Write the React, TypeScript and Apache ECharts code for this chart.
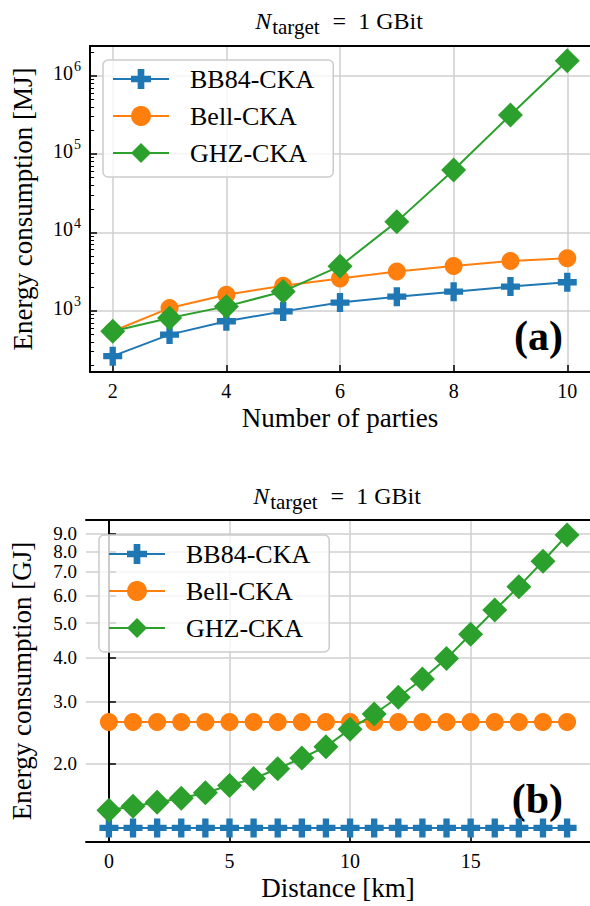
import React, { useEffect, useRef } from "react";
import * as echarts from "echarts";

// ---------- data ----------
const parties = [2, 3, 4, 5, 6, 7, 8, 9, 10];
const bb84Parties = [263, 495, 733, 980, 1270, 1510, 1750, 2030, 2305];
const bellParties = [546, 1080, 1600, 2080, 2570, 3170, 3720, 4310, 4670];
const ghzParties = [546, 807, 1135, 1760, 3700, 13700, 62500, 315000, 1550000];

const distances = [0, 1, 2, 3, 4, 5, 6, 7, 8, 9, 10, 11, 12, 13, 14, 15, 16, 17, 18, 19];
const bb84Distance = [1.31, 1.31, 1.31, 1.31, 1.31, 1.31, 1.31, 1.31, 1.31, 1.31, 1.31, 1.31, 1.31, 1.31, 1.31, 1.31, 1.31, 1.31, 1.31, 1.31];
const bellDistance = [2.62, 2.62, 2.62, 2.62, 2.62, 2.62, 2.62, 2.62, 2.62, 2.62, 2.62, 2.62, 2.62, 2.62, 2.62, 2.62, 2.62, 2.62, 2.62, 2.62];
const ghzDistance = [1.47, 1.51, 1.55, 1.59, 1.65, 1.73, 1.81, 1.93, 2.07, 2.23, 2.5, 2.76, 3.08, 3.47, 3.97, 4.65, 5.45, 6.35, 7.5, 8.9];

const partiesTicks = [2, 4, 6, 8, 10];
const distanceTicks = [0, 5, 10, 15];
const energyMajorTicksMJ = [1000, 10000, 100000, 1000000];
const energyMinorTicksMJ = [
  200, 300, 400, 500, 600, 700, 800, 900,
  2000, 3000, 4000, 5000, 6000, 7000, 8000, 9000,
  20000, 30000, 40000, 50000, 60000, 70000, 80000, 90000,
  200000, 300000, 400000, 500000, 600000, 700000, 800000, 900000,
  2000000,
];
// labels split over two axes so ECharts does not drop crowded neighbours
const energyTicksGJ = [2, 3, 4, 5, 6, 7, 8, 9];
const energyLabelsGJ_A = [2, 3, 4, 5, 6, 7, 9];
const energyLabelsGJ_B = [8];

const seriesNames = ["BB84-CKA", "Bell-CKA", "GHZ-CKA"];
const colors = ["#1f77b4", "#ff7f0e", "#2ca02c"];

// ---------- styling ----------
const FONT = "Liberation Serif";
const PLUS = "path://M-1,-3L1,-3L1,-1L3,-1L3,1L1,1L1,3L-1,3L-1,1L-3,1L-3,-1L-1,-1Z";
const symbols = [PLUS, "circle", "diamond"];
const symbolSizes = [19, 18, 25];
const GRID_COLOR = "#cfcfcf";

const titleRich = {
  i: { fontFamily: FONT, fontStyle: "italic", fontSize: 24, verticalAlign: "top", color: "#000" },
  s: { fontFamily: FONT, fontSize: 21, verticalAlign: "top", padding: [7, 13, 0, 1], color: "#000" },
  e: { fontFamily: FONT, fontSize: 24, verticalAlign: "top", padding: [0, 12, 0, 0], color: "#000" },
  n: { fontFamily: FONT, fontSize: 24, verticalAlign: "top", color: "#000" },
};
const TITLE_TEXT = "{i|N}{s|target}{e|=}{n|1 GBit}";

const nameRich = { a: { fontFamily: FONT, fontSize: 27, color: "#000" } };

function makeSeries(idx: number, xs: number[], ys: number[], axisIdx: number, yAxisIdx: number) {
  return {
    type: "line",
    name: seriesNames[idx],
    xAxisIndex: axisIdx,
    yAxisIndex: yAxisIdx,
    data: xs.map((x, i) => [x, ys[i]]),
    symbol: symbols[idx],
    symbolSize: symbolSizes[idx],
    showAllSymbol: true,
    color: colors[idx],
    lineStyle: { width: 2, color: colors[idx] },
    itemStyle: { color: colors[idx] },
    emphasis: { disabled: true },
    silent: true,
    z: 3 + idx,
  };
}

function mainY(gridIndex: number, min: number, max: number, tickVals: number[], labelVals: number[], fmt: (v: number) => string, name: string, nameGap: number, labelSize: number, rich?: any) {
  return {
    type: "log",
    gridIndex,
    position: "left",
    min,
    max,
    logBase: 10,
    name: "{a|" + name + "}",
    nameLocation: "middle",
    nameGap,
    nameTextStyle: { fontFamily: FONT, fontSize: 27, color: "#000", rich: nameRich },
    axisLine: { show: true, lineStyle: { color: "#000", width: 2 } },
    axisTick: { show: true, inside: true, length: 7, customValues: tickVals, lineStyle: { color: "#000", width: 1.5 } },
    axisLabel: {
      show: true,
      customValues: labelVals,
      margin: 9,
      fontFamily: FONT,
      fontSize: labelSize,
      lineHeight: 14,
      color: "#000",
      formatter: fmt,
      rich,
      hideOverlap: false,
    },
    splitLine: { show: true, lineStyle: { color: GRID_COLOR, width: 1.5 } },
    minorTick: { show: false },
  };
}

export default function App() {
  const ref = useRef<HTMLDivElement>(null);
  useEffect(() => {
    if (!ref.current) return;
    const chart = echarts.init(ref.current, undefined, { renderer: "svg" });

    const xAxisBase = (gridIndex: number, min: number, max: number, ticks: number[], name: string) => ({
      type: "value",
      gridIndex,
      position: "bottom",
      min,
      max,
      name: "{a|" + name + "}",
      nameLocation: "middle",
      nameGap: 32,
      nameTextStyle: { fontFamily: FONT, fontSize: 27, color: "#000", rich: nameRich },
      axisLine: { show: true, onZero: false, lineStyle: { color: "#000", width: 2 } },
      axisTick: { show: true, inside: true, length: 7, customValues: ticks, lineStyle: { color: "#000", width: 1.5 } },
      axisLabel: { show: true, customValues: ticks, margin: 9, fontFamily: FONT, fontSize: 20, color: "#000", hideOverlap: false },
      splitLine: { show: true, lineStyle: { color: GRID_COLOR, width: 1.5 } },
    });
    const xTop = (gridIndex: number, min: number, max: number) => ({
      type: "value",
      gridIndex,
      position: "top",
      min,
      max,
      axisLine: { show: true, onZero: false, lineStyle: { color: "#000", width: 2 } },
      axisTick: { show: false },
      axisLabel: { show: false },
      splitLine: { show: false },
    });

    const legendBase = {
      orient: "vertical",
      itemWidth: 56,
      itemHeight: 25,
      itemGap: 11,
      padding: [6, 19, 11, 9],
      backgroundColor: "rgba(255,255,255,0.8)",
      borderColor: "#cccccc",
      borderWidth: 1.5,
      borderRadius: 5,
      selectedMode: false,
      data: seriesNames,
      textStyle: { fontFamily: FONT, fontSize: 26, color: "#000", padding: [0, 0, 0, 16] },
    };

    const supRich = {
      b: { fontFamily: FONT, fontSize: 20, color: "#000", verticalAlign: "bottom" },
      s: { fontFamily: FONT, fontSize: 14, color: "#000", verticalAlign: "bottom", padding: [0, 0, 9, 1] },
    };

    chart.setOption({
      animation: false,
      backgroundColor: "#fff",
      textStyle: { fontFamily: FONT },
      grid: [
        { left: 90, top: 46, right: 0, height: 326, containLabel: false },
        { left: 86, top: 520, right: 0, height: 322, containLabel: false },
      ],
      xAxis: [
        xAxisBase(0, 1.6, 10.4, partiesTicks, "Number of parties"),
        xTop(0, 1.6, 10.4),
        xAxisBase(1, -0.95, 19.95, distanceTicks, "Distance [km]"),
        xTop(1, -0.95, 19.95),
      ],
      yAxis: [
        mainY(0, 165, 2390000, energyMajorTicksMJ, energyMajorTicksMJ,
          (v: number) => "{b|10}{s|" + Math.round(Math.log10(v)) + "}",
          "Energy consumption [MJ]", 54, 20, supRich),
        {
          type: "log", gridIndex: 0, position: "left", min: 165, max: 2390000,
          axisLine: { show: false },
          axisTick: { show: true, inside: true, length: 4, customValues: energyMinorTicksMJ, lineStyle: { color: "#000", width: 1 } },
          axisLabel: { show: false },
          splitLine: { show: false },
        },
        mainY(1, 1.195, 9.82, energyTicksGJ, energyLabelsGJ_A, (v: number) => v.toFixed(1),
          "Energy consumption [GJ]", 51, 19),
        {
          type: "log", gridIndex: 1, position: "left", min: 1.195, max: 9.82,
          axisLine: { show: false },
          axisTick: { show: false },
          axisLabel: {
            show: true, customValues: energyLabelsGJ_B, margin: 9, fontFamily: FONT, fontSize: 19, lineHeight: 14,
            color: "#000", formatter: (v: number) => v.toFixed(1), hideOverlap: false,
          },
          splitLine: { show: false },
        },
      ],
      legend: [
        { ...legendBase, left: 103, top: 60 },
        { ...legendBase, left: 99, top: 535 },
      ],
      graphic: [
        { type: "text", x: 339, y: 9, style: { text: TITLE_TEXT, rich: titleRich, align: "center", verticalAlign: "top", fill: "#000" } },
        { type: "text", x: 337, y: 484, style: { text: TITLE_TEXT, rich: titleRich, align: "center", verticalAlign: "top", fill: "#000" } },
        { type: "text", x: 563, y: 357, style: { text: "(a)", fontFamily: FONT, fontSize: 42, fontWeight: "bold", fill: "#000", align: "right", verticalAlign: "bottom" } },
        { type: "text", x: 563, y: 820, style: { text: "(b)", fontFamily: FONT, fontSize: 42, fontWeight: "bold", fill: "#000", align: "right", verticalAlign: "bottom" } },
      ],
      series: [
        makeSeries(0, parties, bb84Parties, 0, 0),
        makeSeries(1, parties, bellParties, 0, 0),
        makeSeries(2, parties, ghzParties, 0, 0),
        makeSeries(0, distances, bb84Distance, 2, 2),
        makeSeries(1, distances, bellDistance, 2, 2),
        makeSeries(2, distances, ghzDistance, 2, 2),
      ],
    });
    return () => chart.dispose();
  }, []);
  return (
    <div
      ref={ref}
      style={{ position: "fixed", left: 0, top: 0, width: 590, height: 906, background: "#fff" }}
    />
  );
}
